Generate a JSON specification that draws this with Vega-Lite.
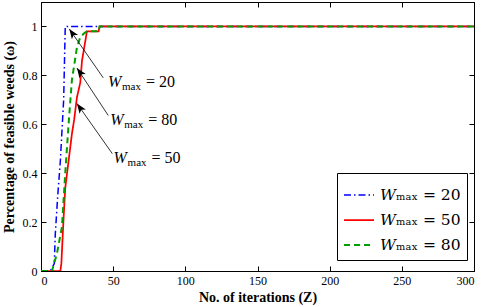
{
  "$schema": "https://vega.github.io/schema/vega-lite/v6.json",
  "width": 433,
  "height": 269,
  "autosize": {"type": "none"},
  "padding": {"left": 41, "top": 2, "right": 11, "bottom": 36},
  "config": {
    "view": {"stroke": "black", "strokeWidth": 1},
    "axis": {
      "domainColor": "black", "tickColor": "black", "labelColor": "black",
      "labelFont": "Liberation Serif", "labelFontSize": 12,
      "titleFont": "Liberation Serif", "titleFontSize": 14, "titleFontWeight": "bold", "titleColor": "black",
      "grid": false, "tickSize": -5, "labelPadding": 9
    }
  },
  "datasets": {
    "curves": [
      {"iter": 0, "pct": 0, "series": "20"},
      {"iter": 6.4, "pct": 0, "series": "20"},
      {"iter": 9.2, "pct": 0.03, "series": "20"},
      {"iter": 9.9, "pct": 0.15, "series": "20"},
      {"iter": 11.5, "pct": 0.3, "series": "20"},
      {"iter": 13.4, "pct": 0.45, "series": "20"},
      {"iter": 15.7, "pct": 0.7, "series": "20"},
      {"iter": 16.8, "pct": 1.0, "series": "20"},
      {"iter": 300, "pct": 1.0, "series": "20"},
      {"iter": 0, "pct": 0, "series": "50"},
      {"iter": 13.4, "pct": 0, "series": "50"},
      {"iter": 14.1, "pct": 0.03, "series": "50"},
      {"iter": 15.5, "pct": 0.2, "series": "50"},
      {"iter": 16.8, "pct": 0.34, "series": "50"},
      {"iter": 19.1, "pct": 0.45, "series": "50"},
      {"iter": 21.4, "pct": 0.56, "series": "50"},
      {"iter": 23, "pct": 0.62, "series": "50"},
      {"iter": 24.9, "pct": 0.71, "series": "50"},
      {"iter": 27.2, "pct": 0.77, "series": "50"},
      {"iter": 28.4, "pct": 0.86, "series": "50"},
      {"iter": 30.7, "pct": 0.94, "series": "50"},
      {"iter": 31.8, "pct": 0.98, "series": "50"},
      {"iter": 39.9, "pct": 0.98, "series": "50"},
      {"iter": 40.6, "pct": 1.0, "series": "50"},
      {"iter": 300, "pct": 1.0, "series": "50"},
      {"iter": 0, "pct": 0, "series": "80"},
      {"iter": 7.6, "pct": 0, "series": "80"},
      {"iter": 11, "pct": 0.07, "series": "80"},
      {"iter": 14.5, "pct": 0.18, "series": "80"},
      {"iter": 16.8, "pct": 0.4, "series": "80"},
      {"iter": 19.1, "pct": 0.6, "series": "80"},
      {"iter": 21.4, "pct": 0.78, "series": "80"},
      {"iter": 24.9, "pct": 0.915, "series": "80"},
      {"iter": 27.2, "pct": 0.956, "series": "80"},
      {"iter": 29.5, "pct": 0.97, "series": "80"},
      {"iter": 31.8, "pct": 0.98, "series": "80"},
      {"iter": 39.9, "pct": 0.98, "series": "80"},
      {"iter": 40.6, "pct": 1.0, "series": "80"},
      {"iter": 300, "pct": 1.0, "series": "80"}
    ],
    "notes": [
      {"value": "= 20", "tx": 46.4, "ty": 0.752, "x0": 43.1, "y0": 0.79, "x1": 19.6, "y1": 0.99},
      {"value": "= 80", "tx": 48.0, "ty": 0.595, "x0": 46.6, "y0": 0.636, "x1": 24.9, "y1": 0.83},
      {"value": "= 50", "tx": 50.3, "ty": 0.443, "x0": 49.4, "y0": 0.48, "x1": 24.9, "y1": 0.685}
    ]
  },
  "layer": [
    {
      "data": {"name": "curves"},
      "mark": {"type": "line", "clip": true},
      "encoding": {
        "x": {"field": "iter", "type": "quantitative", "scale": {"domain": [0, 300], "nice": false},
              "axis": {"values": [0, 50, 100, 150, 200, 250, 300], "title": "No. of iterations (Z)", "titlePadding": 4}},
        "y": {"field": "pct", "type": "quantitative", "scale": {"domain": [0, 1.1], "nice": false},
              "axis": {"values": [0, 0.2, 0.4, 0.6, 0.8, 1], "format": "~g", "title": "Percentage of feasible weeds (ω)", "titlePadding": 6}},
        "color": {"field": "series", "type": "nominal",
                  "scale": {"domain": ["20", "50", "80"], "range": ["#0000ff", "#ff0000", "#00a000"]},
                  "legend": {"orient": "none", "legendX": 296, "legendY": 171, "title": null,
                             "labelExpr": "'𝑊ₘₐₓ = ' + datum.label",
                             "strokeColor": "black", "fillColor": "white", "padding": 6,
                             "labelFont": "DejaVu Serif", "labelFontSize": 15.5, "labelColor": "black",
                             "symbolType": "stroke", "symbolSize": 900, "symbolStrokeWidth": 2, "rowPadding": -5, "labelOffset": 5}},
        "strokeDash": {"field": "series", "type": "nominal",
                       "scale": {"domain": ["20", "50", "80"], "range": [[7, 3, 1.5, 3], [1, 0], [6, 4]]}},
        "strokeWidth": {"field": "series", "type": "nominal",
                        "scale": {"domain": ["20", "50", "80"], "range": [1.5, 2, 2]}, "legend": null}
      }
    },
    {
      "data": {"name": "notes"},
      "mark": {"type": "rule", "color": "black", "strokeWidth": 0.8},
      "encoding": {
        "x": {"field": "x0", "type": "quantitative", "axis": null},
        "y": {"field": "y0", "type": "quantitative", "axis": null},
        "x2": {"field": "x1"},
        "y2": {"field": "y1"}
      }
    },
    {
      "data": {"name": "notes"},
      "mark": {"type": "point", "shape": "M0,0L0.38,1L0,0.75L-0.38,1Z", "filled": true, "color": "black", "opacity": 1, "size": 400, "angle": 325},
      "encoding": {
        "x": {"field": "x1", "type": "quantitative", "axis": null},
        "y": {"field": "y1", "type": "quantitative", "axis": null}
      }
    },
    {
      "data": {"name": "notes"},
      "mark": {"type": "text", "align": "left", "baseline": "alphabetic", "font": "Liberation Serif", "fontStyle": "italic", "fontSize": 16, "color": "black", "text": "W"},
      "encoding": {
        "x": {"field": "tx", "type": "quantitative", "axis": null},
        "y": {"field": "ty", "type": "quantitative", "axis": null}
      }
    },
    {
      "data": {"name": "notes"},
      "mark": {"type": "text", "align": "left", "baseline": "alphabetic", "font": "Liberation Serif", "fontSize": 11, "color": "black", "text": "max", "dx": 14, "dy": 3},
      "encoding": {
        "x": {"field": "tx", "type": "quantitative", "axis": null},
        "y": {"field": "ty", "type": "quantitative", "axis": null}
      }
    },
    {
      "data": {"name": "notes"},
      "mark": {"type": "text", "align": "left", "baseline": "alphabetic", "font": "Liberation Serif", "fontSize": 16, "color": "black", "dx": 38},
      "encoding": {
        "x": {"field": "tx", "type": "quantitative", "axis": null},
        "y": {"field": "ty", "type": "quantitative", "axis": null},
        "text": {"field": "value"}
      }
    },
    {
      "data": {"name": "curves"},
      "mark": {"type": "point", "opacity": 0},
      "encoding": {
        "x": {"field": "iter", "type": "quantitative", "axis": {"orient": "top", "labels": false, "title": null, "values": [0, 50, 100, 150, 200, 250, 300]}},
        "y": {"field": "pct", "type": "quantitative", "axis": {"orient": "right", "labels": false, "title": null, "values": [0, 0.2, 0.4, 0.6, 0.8, 1]}}
      }
    }
  ],
  "resolve": {"axis": {"x": "independent", "y": "independent"}}
}
